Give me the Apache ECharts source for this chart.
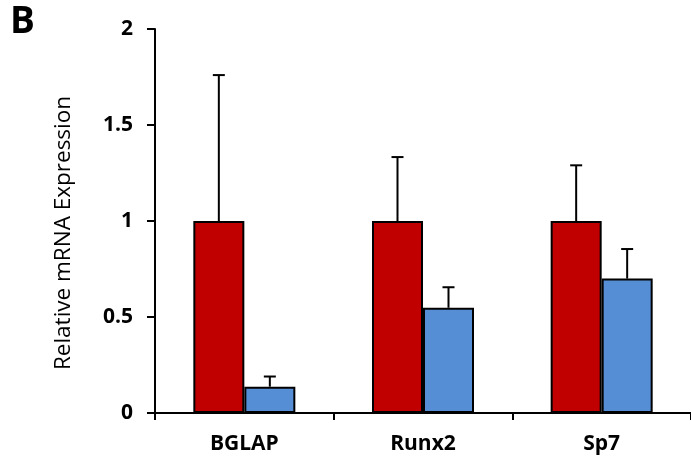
<!DOCTYPE html>
<html><head><meta charset="utf-8">
<script src="https://cdn.jsdelivr.net/npm/echarts@6/dist/echarts.min.js"></script>
<style>html,body{margin:0;padding:0;background:#fff}#c{width:691px;height:465px}</style>
</head><body><div id="c"></div>
<script>
const categories = ['BGLAP', 'Runx2', 'Sp7'];
const redValues = [1, 1, 1];
const redErr = [0.76, 0.333, 0.29];
const blueValues = [0.137, 0.548, 0.70];
const blueErr = [0.053, 0.107, 0.154];
const yTicks = [0, 0.5, 1, 1.5, 2];

const chart = echarts.init(document.getElementById('c'));
const font = '"Open Sans", "Liberation Sans", sans-serif';

function errSeries(vals, errs, offset) {
  return {
    type: 'custom',
    z: 1,
    data: vals.map((v, i) => [i, v, v + errs[i]]),
    renderItem: function (params, api) {
      const base = api.coord([api.value(0), api.value(1)]);
      const top = api.coord([api.value(0), api.value(2)]);
      const x = base[0] + offset;
      const hw = 6;
      return {
        type: 'group',
        children: [
          { type: 'line', shape: { x1: x, y1: base[1], x2: x, y2: top[1] }, style: { stroke: '#000', lineWidth: 2 } },
          { type: 'line', shape: { x1: x - hw, y1: top[1], x2: x + hw, y2: top[1] }, style: { stroke: '#000', lineWidth: 2 } }
        ]
      };
    }
  };
}

chart.setOption({
  animation: false,
  graphic: [{ type: 'text', left: 10, top: 4, style: { text: 'B', font: 'bold 37px ' + font, fill: '#000' } }],
  grid: { left: 155, right: 0, top: 29, bottom: 52 },
  xAxis: {
    type: 'category',
    data: categories,
    axisLine: { lineStyle: { color: '#000', width: 2 } },
    axisTick: { show: true, length: 7, lineStyle: { color: '#000', width: 2 } },
    axisLabel: { color: '#000', fontWeight: 'bold', fontSize: 21, fontFamily: font, margin: 21 }
  },
  yAxis: {
    type: 'value',
    min: yTicks[0], max: yTicks[yTicks.length - 1], interval: 0.5,
    name: 'Relative mRNA Expression',
    nameLocation: 'middle',
    nameGap: 80,
    nameTextStyle: { color: '#000', fontSize: 22.5, fontFamily: font, padding: [0, 24, 0, 0] },
    axisLine: { show: true, lineStyle: { color: '#000', width: 2 } },
    axisTick: { show: true, length: 8, lineStyle: { color: '#000', width: 2 } },
    axisLabel: { color: '#000', fontWeight: 'bold', fontSize: 21, fontFamily: font, margin: 22 },
    splitLine: { show: false }
  },
  series: [
    { type: 'bar', data: redValues, barWidth: 51, barGap: '0%', z: 2,
      itemStyle: { color: '#C00000', borderColor: '#000', borderWidth: 2 } },
    { type: 'bar', data: blueValues, barWidth: 51, barGap: '0%', z: 2,
      itemStyle: { color: '#558ED5', borderColor: '#000', borderWidth: 2 } },
    errSeries(redValues, redErr, -25.5),
    errSeries(blueValues, blueErr, 25.5)
  ]
});
</script></body></html>
